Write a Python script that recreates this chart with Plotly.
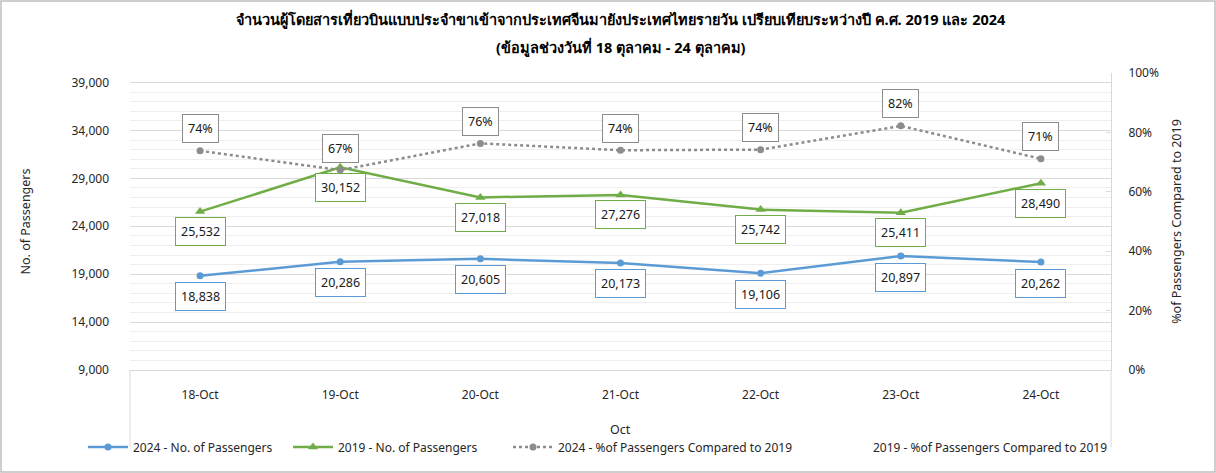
import plotly.graph_objects as go

categories = ["18-Oct", "19-Oct", "20-Oct", "21-Oct", "22-Oct", "23-Oct", "24-Oct"]
pax_2024 = [18838, 20286, 20605, 20173, 19106, 20897, 20262]
pax_2019 = [25532, 30152, 27018, 27276, 25742, 25411, 28490]
pct_2024 = [0.738, 0.673, 0.763, 0.740, 0.742, 0.822, 0.711]
left_ticks = [9000, 14000, 19000, 24000, 29000, 34000, 39000]

BLUE = "#5b9bd5"
GREEN = "#70ad47"
GREY = "#8c8c8c"
FONT = "Noto Sans, DejaVu Sans, sans-serif"

fig = go.Figure()
fig.add_trace(go.Scatter(
    x=categories, y=pax_2024, name="2024 - No. of Passengers", legend="legend",
    mode="lines+markers", line=dict(color=BLUE, width=2.5),
    marker=dict(symbol="circle", size=7, color=BLUE)))
fig.add_trace(go.Scatter(
    x=categories, y=pax_2019, name="2019 - No. of Passengers", legend="legend2",
    mode="lines+markers", line=dict(color=GREEN, width=2.5),
    marker=dict(symbol="triangle-up", size=9, color=GREEN)))
fig.add_trace(go.Scatter(
    x=categories, y=pct_2024, name="2024 - %of Passengers Compared to 2019", legend="legend3",
    mode="lines+markers", yaxis="y2", line=dict(color=GREY, width=2.5, dash="dot"),
    marker=dict(symbol="circle", size=7, color=GREY)))
fig.add_trace(go.Scatter(
    x=[None], y=[None], name="2019 - %of Passengers Compared to 2019", legend="legend4",
    mode="lines", yaxis="y2", line=dict(color="rgba(0,0,0,0)", width=2)))

annotations = []
for c, v in zip(categories, pax_2024):
    annotations.append(dict(x=c, y=v, xref="x", yref="y", text=f"{v:,}", showarrow=False,
                            yshift=-21, bgcolor="white", bordercolor=BLUE, borderwidth=1,
                            borderpad=5, font=dict(size=12.5, color="#1a1a1a", family=FONT)))
for c, v in zip(categories, pax_2019):
    annotations.append(dict(x=c, y=v, xref="x", yref="y", text=f"{v:,}", showarrow=False,
                            yshift=-20, bgcolor="white", bordercolor=GREEN, borderwidth=1,
                            borderpad=5, font=dict(size=12.5, color="#1a1a1a", family=FONT)))
for c, v in zip(categories, pct_2024):
    annotations.append(dict(x=c, y=v, xref="x", yref="y2", text=f"{round(v*100)}%", showarrow=False,
                            yshift=22, bgcolor="white", bordercolor=GREY, borderwidth=1,
                            borderpad=5, font=dict(size=12.5, color="#1a1a1a", family=FONT)))

annotations.append(dict(x=0.5, y=1.0, xref="paper", yref="paper", yanchor="bottom",
                        text="<b>จำนวนผู้โดยสารเที่ยวบินแบบประจำขาเข้าจากประเทศจีนมายังประเทศไทยรายวัน เปรียบเทียบระหว่างปี ค.ศ. 2019 และ 2024</b>",
                        showarrow=False, yshift=42, font=dict(size=14.5, color="#000000", family=FONT)))
annotations.append(dict(x=0.5, y=1.0, xref="paper", yref="paper", yanchor="bottom",
                        text="<b>(ข้อมูลช่วงวันที่ 18 ตุลาคม - 24 ตุลาคม)</b>",
                        showarrow=False, yshift=14, font=dict(size=14.5, color="#000000", family=FONT)))
# x-axis title
annotations.append(dict(x=0.5, y=-0.202, xref="paper", yref="paper", yanchor="middle",
                        text="Oct", showarrow=False, font=dict(size=12.5, color="#262626", family=FONT)))


def leg(xpx):
    return dict(orientation="h", xref="container", yref="container",
                x=xpx / 1216, xanchor="left", y=1 - 447 / 473, yanchor="middle",
                font=dict(size=12, color="#262626"), itemwidth=40,
                bgcolor="rgba(0,0,0,0)")


PW, PH = 1216 - 130 - 105, 473 - 73 - 103

fig.update_layout(
    width=1216, height=473,
    margin=dict(l=130, r=105, t=73, b=103, autoexpand=False),
    paper_bgcolor="white", plot_bgcolor="white",
    font=dict(family=FONT, size=12, color="#262626"),
    showlegend=True,
    legend=leg(83), legend2=leg(288), legend3=leg(508), legend4=leg(823),
    xaxis=dict(range=[-0.5, 6.5], showgrid=False, showline=True, linecolor="#d9d9d9",
               ticks="", tickfont=dict(size=12), ticklabelstandoff=14, automargin=False),
    yaxis=dict(range=[9000, 40000], tickvals=left_ticks, tickformat=",",
               showgrid=True, gridcolor="#d9d9d9", gridwidth=1, automargin=False,
               minor=dict(dtick=1000, showgrid=True, gridcolor="#eeeeee", gridwidth=1),
               zeroline=False, ticks="", ticklabelstandoff=20, tickfont=dict(size=12),
               title=dict(text="No. of Passengers", font=dict(size=12.5), standoff=38)),
    yaxis2=dict(range=[0, 1], overlaying="y", side="right", tickformat=".0%", dtick=0.2,
                showgrid=False, zeroline=False, showline=True, linecolor="#d9d9d9",
                ticks="inside", ticklen=5, tickcolor="#d9d9d9", tickfont=dict(size=12),
                ticklabelstandoff=14, automargin=False,
                title=dict(text="%of Passengers Compared to 2019", font=dict(size=12.5), standoff=14)),
    annotations=annotations,
    shapes=[
        dict(type="line", xref="paper", yref="paper", x0=0, x1=0, y0=0, y1=-0.26,
             line=dict(color="#d9d9d9", width=1)),
        dict(type="line", xref="paper", yref="paper", x0=1, x1=1, y0=0, y1=-0.26,
             line=dict(color="#d9d9d9", width=1)),
        # outer chart border
        dict(type="rect", xref="paper", yref="paper",
             x0=-129 / PW, x1=1 + 104 / PW, y0=-102 / PH, y1=1 + 72 / PH,
             line=dict(color="#bfbfbf", width=1.5), layer="above"),
    ],
)

fig.write_html("out.html")
